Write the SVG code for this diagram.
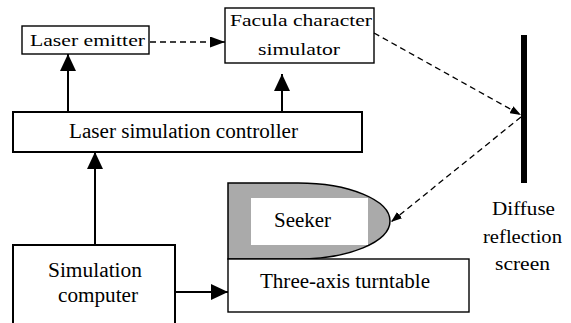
<svg xmlns="http://www.w3.org/2000/svg" width="571" height="323" viewBox="0 0 571 323">
<style>
text{fill:#000}
.box{fill:#fff;stroke:#000;stroke-width:1.4}
.thick{fill:#fff;stroke:#000;stroke-width:2}
.solid{fill:none;stroke:#000;stroke-width:2}
.dash{fill:none;stroke:#000;stroke-width:1.3;stroke-dasharray:6 4}
</style>
<defs>
<marker id="ah" markerUnits="userSpaceOnUse" markerWidth="17" markerHeight="16" refX="17" refY="8" orient="auto"><path d="M0,0 L17,8 L0,16 Z" fill="#000"/></marker>
<marker id="ahd" markerUnits="userSpaceOnUse" markerWidth="15" markerHeight="11" refX="15" refY="5.5" orient="auto"><path d="M0,0 L15,5.5 L0,11 Z" fill="#000"/></marker>
<marker id="ahs" markerUnits="userSpaceOnUse" markerWidth="11" markerHeight="8" refX="11" refY="4" orient="auto"><path d="M0,0 L11,4 L0,8 Z" fill="#000"/></marker>
</defs>
<g font-family="'Liberation Serif', 'Times New Roman', Times, 'DejaVu Serif', serif">
<g id="laser-emitter"><rect class="box" x="22" y="26" width="127" height="28"/><text x="30" y="46" font-size="17" textLength="115" lengthAdjust="spacingAndGlyphs">Laser emitter</text></g>
<g id="facula-simulator"><rect class="box" x="225" y="8" width="149" height="55"/><text x="230" y="26" font-size="17" textLength="142" lengthAdjust="spacingAndGlyphs">Facula character</text><text x="258" y="55" font-size="17" textLength="82" lengthAdjust="spacingAndGlyphs">simulator</text></g>
<g id="laser-controller"><rect class="thick" x="13" y="112" width="349" height="40"/><text x="69" y="138" font-size="20" textLength="229" lengthAdjust="spacingAndGlyphs">Laser simulation controller</text></g>
<g id="simulation-computer"><path class="thick" d="M13,324 V245 H175 V324"/><text x="48" y="277" font-size="20" textLength="94" lengthAdjust="spacingAndGlyphs">Simulation</text><text x="58" y="302" font-size="20" textLength="80" lengthAdjust="spacingAndGlyphs">computer</text></g>
<g id="seeker"><path d="M228,183 H298 A92,38 0 0 1 298,259 H228 Z" fill="#aaa" stroke="#000" stroke-width="1.5"/><rect x="251" y="198" width="117" height="47" fill="#fff"/><text x="274" y="227" font-size="20" textLength="57" lengthAdjust="spacingAndGlyphs">Seeker</text></g>
<g id="turntable"><rect class="box" x="228" y="259" width="241" height="53"/><text x="260" y="288" font-size="20" textLength="170" lengthAdjust="spacingAndGlyphs">Three-axis turntable</text></g>
<g id="screen"><rect x="521" y="35" width="6" height="148" fill="#000"/><text x="492" y="215" font-size="18" textLength="63" lengthAdjust="spacingAndGlyphs">Diffuse</text><text x="483" y="243" font-size="18" textLength="79" lengthAdjust="spacingAndGlyphs">reflection</text><text x="495" y="270" font-size="18" textLength="55" lengthAdjust="spacingAndGlyphs">screen</text></g>
</g>
<g id="connectors">
<path class="solid" d="M68,112 V54" marker-end="url(#ah)"/>
<path class="solid" d="M282,112 V74" marker-end="url(#ah)"/>
<path class="solid" d="M95,245 V152" marker-end="url(#ah)"/>
<path class="solid" d="M176,292 H228" marker-end="url(#ah)"/>
<path class="dash" d="M150,42 H225" marker-end="url(#ahd)"/>
<path class="dash" d="M374,33 L521,115" marker-end="url(#ahs)"/>
<path class="dash" d="M521,117 L391,222" marker-end="url(#ahs)"/>
</g>
</svg>
